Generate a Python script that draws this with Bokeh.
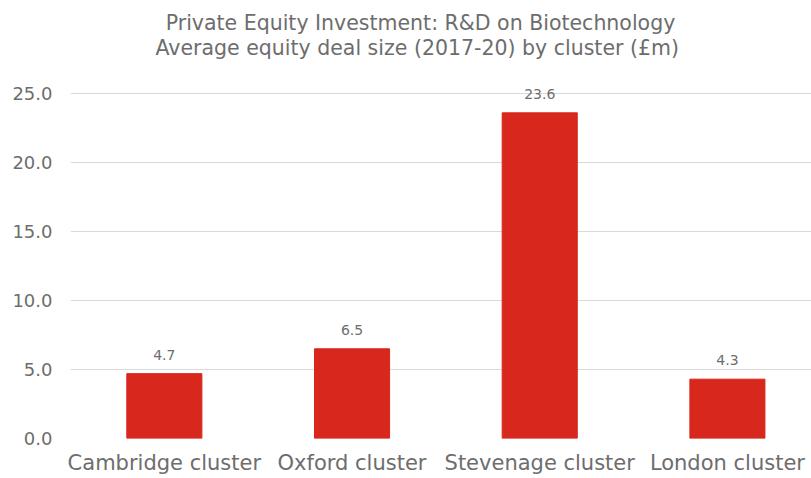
from bokeh.plotting import figure
from bokeh.models import Range1d, FixedTicker, ColumnDataSource, LabelSet, NumeralTickFormatter, Label
from bokeh.core.properties import value
from bokeh.embed import file_html
from bokeh.resources import INLINE

categories = ["Cambridge cluster", "Oxford cluster", "Stevenage cluster", "London cluster"]
values = [4.7, 6.5, 23.6, 4.3]
y_ticks = [0, 5, 10, 15, 20, 25]
title_lines = ["Private Equity Investment: R&D on Biotechnology",
               "Average equity deal size (2017-20)  by cluster (\u00a3m)"]

FONT = "DejaVu Sans"
GRAY = "#6d6d6d"
xs = list(range(len(categories)))
src = ColumnDataSource(dict(x=xs, v=values, lbl=[f"{v:.1f}" for v in values]))

# frame spans the full height down to the x axis; the top part holds the title
p = figure(width=811, height=478, output_backend="svg", toolbar_location=None,
           x_range=Range1d(-0.5, 3.448), y_range=Range1d(0, 31.74),
           min_border_left=70, min_border_right=0, min_border_top=0, min_border_bottom=40)
p.outline_line_color = None
p.background_fill_color = "white"

for txt, yy in zip(title_lines, [416, 391]):
    p.add_layout(Label(x=350, y=yy, x_units="screen", y_units="screen", text=txt,
                       text_align="center", text_baseline="middle",
                       text_font=FONT, text_font_size="20.5px", text_color=GRAY))

p.vbar(x="x", top="v", width=0.4, source=src, color="#d8271d")

labels = LabelSet(x="x", y="v", text="lbl", source=src, text_align="center",
                  text_baseline="bottom", y_offset=14,
                  text_font=value(FONT), text_font_size="14px", text_color=GRAY)
p.add_layout(labels)

p.xgrid.grid_line_color = None
p.ygrid.grid_line_color = "#d9d9d9"
p.ygrid.ticker = FixedTicker(ticks=y_ticks)

for ax in (p.xaxis, p.yaxis):
    ax.axis_line_color = None
    ax.major_tick_line_color = None
    ax.minor_tick_line_color = None
    ax.major_tick_out = 0
    ax.major_tick_in = 0
    ax.minor_tick_out = 0
    ax.minor_tick_in = 0
    ax.major_label_text_font = FONT
    ax.major_label_text_color = GRAY

p.yaxis.ticker = FixedTicker(ticks=y_ticks)
p.yaxis.formatter = NumeralTickFormatter(format="0.0")
p.yaxis.major_label_standoff = 18
p.yaxis.major_label_text_font_size = "18px"

p.xaxis.ticker = FixedTicker(ticks=xs)
p.xaxis.major_label_overrides = {i: c for i, c in zip(xs, categories)}
p.xaxis.major_label_standoff = 12
p.xaxis.major_label_text_font_size = "21px"

open("out.html", "w").write(file_html(p, INLINE))
